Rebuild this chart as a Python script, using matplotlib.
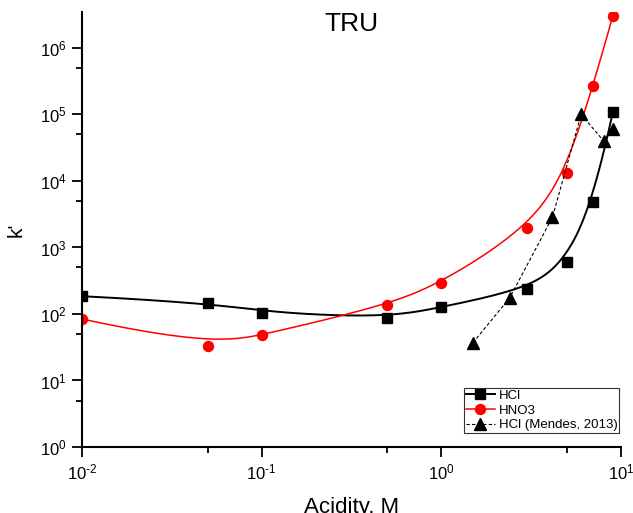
import numpy as np
import matplotlib
matplotlib.use('Agg')
import matplotlib.pyplot as plt
from matplotlib.ticker import LogLocator, FuncFormatter, NullFormatter

plt.rcParams['font.family'] = ['Liberation Sans', 'DejaVu Sans']
plt.rcParams['mathtext.fontset'] = 'custom'
plt.rcParams['mathtext.rm'] = 'Liberation Sans'
plt.rcParams['mathtext.default'] = 'regular'

# HCl (this work)
hcl_x = [0.01, 0.05, 0.1, 0.5, 1.0, 3.0, 5.0, 7.0, 9.0]
hcl_k = [185, 148, 105, 87, 127, 237, 600, 4800, 107000]

# HNO3
hno3_x = [0.01, 0.05, 0.1, 0.5, 1.0, 3.0, 5.0, 7.0, 9.0]
hno3_k = [84, 33, 48, 136, 292, 1930, 13200, 272000, 3000000]

# HCl (Mendes, 2013)
mendes_x = [1.5, 2.4, 4.15, 6.0, 8.0, 9.0]
mendes_k = [37, 174, 2830, 100000, 40000, 60000]


def bspline(xs, ys, n=300, k=3):
    # clamped cubic B-spline in log-log space, data points as control points
    px = np.log10(xs)
    py = np.log10(ys)
    m = len(px)
    knots = np.concatenate([np.zeros(k), np.linspace(0, 1, m - k + 1), np.ones(k)])
    t = np.linspace(0, 1, n)
    N = np.zeros((n, len(knots) - 1))
    for i in range(len(knots) - 1):
        N[:, i] = (knots[i] <= t) & (t < knots[i + 1])
    N[t == 1, m - 1] = 1
    for d in range(1, k + 1):
        Nn = np.zeros((n, len(knots) - 1 - d))
        for i in range(len(knots) - 1 - d):
            a = knots[i + d] - knots[i]
            b = knots[i + d + 1] - knots[i + 1]
            term = np.zeros(n)
            if a > 0:
                term += (t - knots[i]) / a * N[:, i]
            if b > 0:
                term += (knots[i + d + 1] - t) / b * N[:, i + 1]
            Nn[:, i] = term
        N = Nn
    return 10 ** (N @ px), 10 ** (N @ py)


def pow10(v, pos):
    e = int(round(np.log10(v)))
    if e < 0:
        return r'$10^{\text{-}%d}$' % (-e)
    return r'$10^{%d}$' % e


fig = plt.figure(figsize=(6.33, 5.13), dpi=100)
ax = fig.add_axes([82 / 633, 1 - 447 / 513, (621 - 82) / 633, (447 - 12) / 513])

# smooth connecting lines
cx, cy = bspline(hcl_x, hcl_k)
ax.plot(cx, cy, color='black', lw=1.4)
cx, cy = bspline(hno3_x, hno3_k)
ax.plot(cx, cy, color='red', lw=1.1)

ax.plot(hcl_x, hcl_k, 's', color='black', ms=6.5)
ax.plot(hno3_x, hno3_k, 'o', color='red', ms=7.2)
ax.plot(mendes_x, mendes_k, '^', color='black', ms=8.5, ls='--', lw=0.8,
        dashes=(3, 2))

# legend handles
h1, = ax.plot([], [], 's-', color='black', ms=6.5, lw=1.4)
h2, = ax.plot([], [], 'o-', color='red', ms=7.2, lw=1.1)
h3, = ax.plot([], [], '^--', color='black', ms=8.5, lw=0.8, dashes=(3, 2))
leg = ax.legend([h1, h2, h3], ['HCl', 'HNO3', 'HCl (Mendes, 2013)'],
                loc='lower right', bbox_to_anchor=(0.996, 0.032),
                borderaxespad=0, fontsize=9.5, fancybox=False, framealpha=1,
                edgecolor='#333333', handlelength=2.2, handletextpad=0.3,
                labelspacing=0.2, borderpad=0.12)
leg.get_frame().set_linewidth(0.8)

ax.set_xscale('log')
ax.set_yscale('log')
ax.set_xlim(0.01, 10)
ax.set_ylim(1, 10 ** 6.54)

for axis in [ax.xaxis, ax.yaxis]:
    axis.set_major_locator(LogLocator(base=10, numticks=20))
    axis.set_major_formatter(FuncFormatter(pow10))
    axis.set_minor_locator(LogLocator(base=10, subs=[5], numticks=20))
    axis.set_minor_formatter(NullFormatter())

ax.spines['top'].set_visible(False)
ax.spines['right'].set_visible(False)
ax.spines['left'].set_linewidth(1.5)
ax.spines['bottom'].set_linewidth(1.5)
ax.tick_params(which='major', direction='out', length=7, width=1.3,
               labelsize=12, pad=4)
ax.tick_params(which='minor', direction='out', length=4, width=1.3)

ax.text(0.5, 0.972, 'TRU', transform=ax.transAxes, ha='center', va='center',
        fontsize=19)
ax.set_ylabel("k'", fontsize=15, labelpad=10)
ax.set_xlabel('Acidity, M', fontsize=16, labelpad=11)

fig.savefig('out.png', dpi=100)
